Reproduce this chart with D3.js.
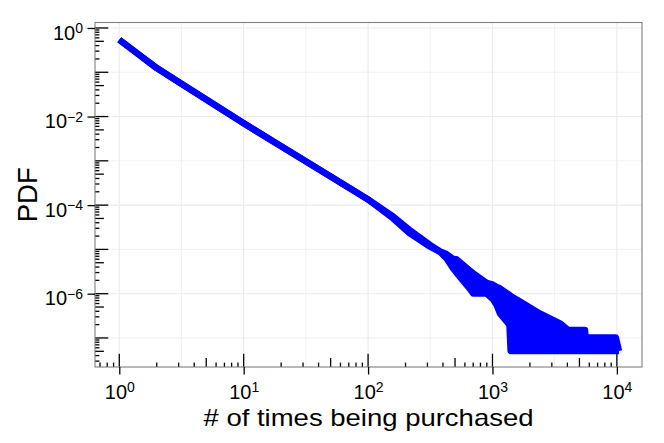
<!DOCTYPE html>
<html>
<head>
<meta charset="utf-8">
<script src="https://cdn.jsdelivr.net/npm/d3@7"></script>
<style>
  html, body { margin: 0; padding: 0; background: #ffffff; }
  svg { display: block; }
  text { font-family: "Liberation Sans", Arial, Helvetica, sans-serif; fill: #000; }
</style>
</head>
<body>
<svg id="chart" width="664" height="443"></svg>
<script>
// ---- data ----
// number of times purchased (x) and the upper / lower extent of the PDF values
const purchases = [1, 2, 3, 5, 10, 20, 50, 100, 159, 216, 315, 380, 427, 483, 513, 656, 701, 898, 1010, 1080, 1148, 1370, 1400, 1760, 2380, 3490, 4060, 5540, 5600, 9800, 10400];
const pdfUpper  = [0.542, 0.1245, 0.0603, 0.0242, 0.00703, 0.00213, 4.42e-4, 1.34e-4, 5.53e-5, 2.74e-5, 1.26e-5, 8.97e-6, 7.87e-6, 6.10e-6, 5.97e-6, 3.34e-6, 2.88e-6, 1.75e-6, 1.60e-6, 1.42e-6, 1.32e-6, 9.33e-7, 8.87e-7, 6.07e-7, 3.61e-7, 2.14e-7, 1.52e-7, 1.52e-7, 1.02e-7, 1.02e-7, 5.08e-8];
const pdfLower  = [0.542, 0.1245, 0.0603, 0.0242, 0.00703, 0.00213, 4.42e-4, 1.34e-4, 4.99e-5, 2.30e-5, 1.15e-5, 8.70e-6, 6.26e-6, 3.72e-6, 3.00e-6, 1.30e-6, 1.01e-6, 1.01e-6, 7.50e-7, 5.55e-7, 3.59e-7, 1.96e-7, 5.08e-8, 5.08e-8, 5.08e-8, 5.08e-8, 5.08e-8, 5.08e-8, 5.08e-8, 5.08e-8, 5.08e-8];

// axis limits and tick labels
const xLimits = [0.638, 15920];
const yLimits = [2.21e-8, 1.33];
const xTickExponents = [0, 1, 2, 3, 4];
const yTickExponents = [0, -2, -4, -6];
const xTitle = "# of times being purchased";
const yTitle = "PDF";

// ---- layout ----
const W = 664, H = 443;
const panel = { left: 95, right: 642, top: 22.5, bottom: 367 };

const svg = d3.select("#chart");

const x = d3.scaleLog().domain(xLimits).range([panel.left, panel.right]);
const y = d3.scaleLog().domain(yLimits).range([panel.bottom, panel.top]);

const data = purchases.map((v, i) => ({ x: v, hi: pdfUpper[i], lo: pdfLower[i] }));

// panel background
svg.append("rect")
  .attr("x", panel.left).attr("y", panel.top)
  .attr("width", panel.right - panel.left).attr("height", panel.bottom - panel.top)
  .attr("fill", "#ffffff");

// grid lines
const grid = svg.append("g");
const xMinorGrid = [-1, 0, 1, 2, 3, 4].map(e => Math.pow(10, e + 0.5)).filter(v => v >= xLimits[0] && v <= xLimits[1]);
const yMinorGrid = [1, -1, -3, -5, -7].map(e => Math.pow(10, e)).filter(v => v >= yLimits[0] && v <= yLimits[1]);
const xMajorVals = xTickExponents.map(e => Math.pow(10, e));
const yMajorVals = yTickExponents.map(e => Math.pow(10, e));

grid.selectAll(".xmin").data(xMinorGrid).enter().append("line")
  .attr("x1", d => x(d)).attr("x2", d => x(d))
  .attr("y1", panel.top).attr("y2", panel.bottom)
  .attr("stroke", "#efefef").attr("stroke-width", 0.8);
grid.selectAll(".ymin").data(yMinorGrid).enter().append("line")
  .attr("y1", d => y(d)).attr("y2", d => y(d))
  .attr("x1", panel.left).attr("x2", panel.right)
  .attr("stroke", "#efefef").attr("stroke-width", 0.8);
grid.selectAll(".xmaj").data(xMajorVals).enter().append("line")
  .attr("x1", d => x(d)).attr("x2", d => x(d))
  .attr("y1", panel.top).attr("y2", panel.bottom)
  .attr("stroke", "#ebebeb").attr("stroke-width", 1.1);
grid.selectAll(".ymaj").data(yMajorVals).enter().append("line")
  .attr("y1", d => y(d)).attr("y2", d => y(d))
  .attr("x1", panel.left).attr("x2", panel.right)
  .attr("stroke", "#ebebeb").attr("stroke-width", 1.1);

// data
const blue = "#0000ff";
const dataG = svg.append("g");
dataG.append("path")
  .datum(data)
  .attr("d", d3.area().x(d => x(d.x)).y0(d => y(d.lo)).y1(d => y(d.hi)))
  .attr("fill", blue);
["hi", "lo"].forEach(k => {
  dataG.append("path")
    .datum(data)
    .attr("d", d3.line().x(d => x(d.x)).y(d => y(d[k])))
    .attr("fill", "none")
    .attr("stroke", blue)
    .attr("stroke-width", 6.5)
    .attr("stroke-linejoin", "round")
    .attr("stroke-linecap", "butt");
});

// log ticks (inside panel)
const tickG = svg.append("g").attr("stroke", "#000").attr("stroke-width", 1.3);
const tickLen = k => (k === 1 ? 13.3 : (k === 5 ? 8.9 : 4.4));
const logTicks = (lim, dMin, dMax) => {
  const out = [];
  for (let d = dMin; d <= dMax; d++) {
    for (let k = 1; k <= 9; k++) {
      const v = k * Math.pow(10, d);
      if (v >= lim[0] && v <= lim[1]) out.push({ v, k });
    }
  }
  return out;
};
tickG.selectAll(".xlt").data(logTicks(xLimits, -1, 4)).enter().append("line")
  .attr("x1", d => x(d.v)).attr("x2", d => x(d.v))
  .attr("y1", panel.bottom).attr("y2", d => panel.bottom - tickLen(d.k));
tickG.selectAll(".ylt").data(logTicks(yLimits, -8, 0)).enter().append("line")
  .attr("y1", d => y(d.v)).attr("y2", d => y(d.v))
  .attr("x1", panel.left).attr("x2", d => panel.left + tickLen(d.k));

// panel border
svg.append("rect")
  .attr("x", panel.left).attr("y", panel.top)
  .attr("width", panel.right - panel.left).attr("height", panel.bottom - panel.top)
  .attr("fill", "none").attr("stroke", "#7f7f7f").attr("stroke-width", 1.1);

// axes (outside ticks + labels)
const xAxis = d3.axisBottom(x).tickValues(xMajorVals).tickSize(7.5).tickFormat("");
const yAxis = d3.axisLeft(y).tickValues(yMajorVals).tickSize(7.5).tickFormat("");
const gx = svg.append("g").attr("transform", `translate(0,${panel.bottom})`).call(xAxis);
const gy = svg.append("g").attr("transform", `translate(${panel.left},0)`).call(yAxis);
[gx, gy].forEach(g => {
  g.select(".domain").remove();
  g.selectAll(".tick line").attr("stroke", "#000").attr("stroke-width", 1.3);
});

const expText = e => (e < 0 ? "\u2212" + Math.abs(e) : String(e));

gx.selectAll(".tick").each(function (d) {
  const e = Math.round(Math.log10(d));
  const t = d3.select(this).append("text")
    .attr("x", 0).attr("y", 31.5)
    .attr("text-anchor", "middle")
    .attr("font-size", 20)
    .attr("fill", "#000");
  t.append("tspan").text("10");
  t.append("tspan").attr("font-size", 14).attr("dy", -6.5).text(expText(e));
});

gy.selectAll(".tick").each(function (d) {
  const e = Math.round(Math.log10(d));
  const t = d3.select(this).append("text")
    .attr("x", -12).attr("y", 11.3)
    .attr("text-anchor", "end")
    .attr("font-size", 20)
    .attr("fill", "#000");
  t.append("tspan").text("10");
  t.append("tspan").attr("font-size", 14).attr("dy", -6.5).text(expText(e));
});

// axis titles
svg.append("text")
  .attr("x", (panel.left + panel.right) / 2).attr("y", 425.5)
  .attr("text-anchor", "middle")
  .attr("font-size", 24)
  .attr("textLength", 330)
  .attr("lengthAdjust", "spacingAndGlyphs")
  .text(xTitle);

svg.append("text")
  .attr("transform", `translate(36.5,${(panel.top + panel.bottom) / 2}) rotate(-90)`)
  .attr("text-anchor", "middle")
  .attr("font-size", 27.5)
  .text(yTitle);
</script>
</body>
</html>
